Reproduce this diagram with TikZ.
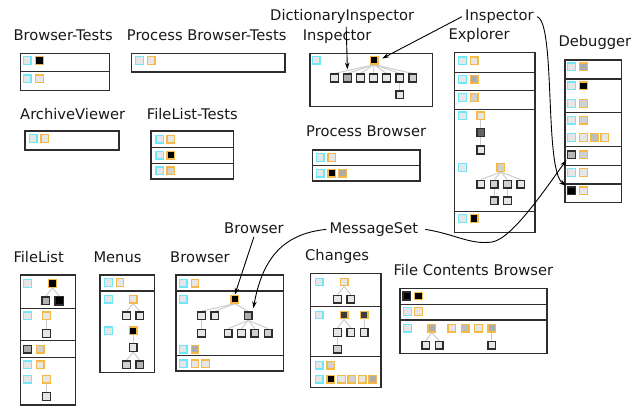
\documentclass[tikz,border=0pt]{standalone}
\usepackage{fontspec}
\setmainfont{DejaVu Sans}
\usetikzlibrary{arrows.meta,backgrounds}

\definecolor{cyanline}{RGB}{110,232,248}
\definecolor{orangeline}{RGB}{245,185,72}
\definecolor{darkline}{RGB}{45,45,45}
\definecolor{sqlight}{RGB}{230,230,230}
\definecolor{sqmid}{RGB}{208,208,208}
\definecolor{sqgray}{RGB}{172,172,172}
\definecolor{sqdark}{RGB}{100,100,100}
\definecolor{sqdeep}{RGB}{60,60,60}
\definecolor{treegray}{RGB}{205,205,205}
\definecolor{panelgray}{RGB}{45,45,45}

\tikzset{
  sqbase/.style={rectangle, minimum size=7.6pt, inner sep=0pt, line width=1.3pt},
  cy/.style={sqbase, draw=cyanline, fill=sqlight},
  or/.style={sqbase, draw=orangeline, fill=#1}, or/.default=sqlight,
  dk/.style={sqbase, draw=darkline, fill=#1, line width=1.5pt}, dk/.default=sqlight,
  panel/.style={draw=panelgray, line width=1.4pt},
  heading/.style={anchor=base west, inner sep=3pt, font=\fontsize{14.7}{17}\selectfont, text=black!90},
  treeedge/.style={draw=treegray, line width=1pt},
  pointer/.style={draw=black, line width=0.9pt, -{Stealth[length=7pt,width=4.5pt]}},
}
% one small square: style, name, x, y
\newcommand\sqbox[4]{\node[#1] (#2) at (#3,#4) {};}

\begin{document}
\begin{tikzpicture}[x=1pt,y=-1pt]
\useasboundingbox (0,0) rectangle (637,407);

% ---------- panel outlines ----------
\draw[panel] (20.7,53.3) rectangle (109.3,90.3);
\draw[panel] (20.7,71.7) -- (109.3,71.7);
\draw[panel] (131.7,53.3) rectangle (285,72);
\draw[panel] (310,53.3) rectangle (432.3,106.7);
\draw[panel] (454.3,52.7) rectangle (535,232.7);
\foreach \y in {72.3,90.7,109.3,211.7} \draw[panel] (454.3,\y) -- (535,\y);
\draw[panel] (565,60) rectangle (621.7,202.7);
\foreach \y in {79,112.7,146.7,165.7,184} \draw[panel] (565,\y) -- (621.7,\y);
\draw[panel] (25,131) rectangle (119,150);
\draw[panel] (151,131) rectangle (233.3,179);
\foreach \y in {147.3,163.3} \draw[panel] (151,\y) -- (233.3,\y);
\draw[panel] (312.3,150) rectangle (420,181);
\draw[panel] (312.3,165.7) -- (420,165.7);
\draw[panel] (20.7,275) rectangle (75.7,405);
\foreach \y in {308.3,340.7,357.3} \draw[panel] (20.7,\y) -- (75.7,\y);
\draw[panel] (100,275) rectangle (154.3,372.7);
\draw[panel] (100,291) -- (154.3,291);
\draw[panel] (176,275) rectangle (283.3,371);
\foreach \y in {291,355.7} \draw[panel] (176,\y) -- (283.3,\y);
\draw[panel] (310.7,273.3) rectangle (381,387.3);
\foreach \y in {306.7,356.7} \draw[panel] (310.7,\y) -- (381,\y);
\draw[panel] (400,288.3) rectangle (547,353.3);
\foreach \y in {304.3,320} \draw[panel] (400,\y) -- (547,\y);

% ---------- headings ----------
\node[heading] (hbt)  at (10.3,40)    {Browser-Tests};
\node[heading] (hpbt) at (123.7,40)   {Process Browser-Tests};
\node[heading] (hin)  at (299.7,40)   {Inspector};
\node[heading] (hex)  at (445.3,39.5) {Explorer};
\node[heading] (hdg)  at (555.3,46.5) {Debugger};
\node[heading] (hav)  at (17,119)     {ArchiveViewer};
\node[heading] (hft)  at (143.7,119)  {FileList-Tests};
\node[heading] (hpb)  at (303,136.5)  {Process Browser};
\node[heading] (hfl)  at (10.3,262.3) {FileList};
\node[heading] (hmn)  at (90.3,262.3) {Menus};
\node[heading] (hbr)  at (167,262.3)  {Browser};
\node[heading] (hch)  at (302,260.5)  {Changes};
\node[heading] (hfc)  at (390.3,275.7){File Contents Browser};
% annotation labels
\node[heading] (adi)  at (267,20.5)   {DictionaryInspector};
\node[heading] (ain)  at (462,20.5)   {Inspector};
\node[heading] (abr)  at (221,233.3)  {Browser};
\node[heading] (ams)  at (326.3,233.3){MessageSet};

% ---------- Browser-Tests ----------
\sqbox{cy}{bt1c}{27.2}{60.5}  \sqbox{or=black}{bt1o}{39.5}{60.5}
\sqbox{cy}{bt2c}{27.2}{78.7}  \sqbox{or}{bt2o}{39.5}{78.7}
% ---------- Process Browser-Tests ----------
\sqbox{cy}{pbt1c}{139.5}{60.5} \sqbox{or}{pbt1o}{151.2}{60.5}
% ---------- ArchiveViewer ----------
\sqbox{cy}{av1c}{33.2}{138.5}  \sqbox{or}{av1o}{44.8}{138.5}
% ---------- FileList-Tests ----------
\sqbox{cy}{ft1c}{159.8}{139.2} \sqbox{or}{ft1o}{170.8}{139.2}
\sqbox{cy}{ft2c}{159.8}{155.2} \sqbox{or=black}{ft2o}{170.8}{155.2}
\sqbox{cy}{ft3c}{159.8}{170.8} \sqbox{or=sqmid}{ft3o}{170.8}{170.8}
% ---------- Process Browser ----------
\sqbox{cy}{pb1c}{320.2}{157.5} \sqbox{or}{pb1o}{331.8}{157.5}
\sqbox{cy}{pb2c}{320.2}{173.2} \sqbox{or=black}{pb2o}{331.8}{173.2}
\sqbox{or=sqgray}{pb2p}{342.5}{173.2}

% ---------- Inspector ----------
\sqbox{cy}{in0c}{316.3}{60.3}
\sqbox{or=black}{inr}{374.2}{60.3}
\sqbox{dk}{inc1}{334.5}{78}
\sqbox{dk=sqgray}{inc2}{347.5}{78}
\sqbox{dk}{inc3}{360.5}{78}
\sqbox{dk}{inc4}{373.5}{78}
\sqbox{dk}{inc5}{386.5}{78}
\sqbox{dk}{inc6}{399.8}{78}
\sqbox{dk=sqmid}{inc7}{412.8}{78}
\sqbox{dk}{ing}{399.8}{94.7}

% ---------- Explorer ----------
\sqbox{cy}{ex1c}{462.5}{60.8}  \sqbox{or}{ex1o}{474.2}{60.8}
\sqbox{cy}{ex2c}{462.5}{79.2}  \sqbox{or=sqgray}{ex2o}{474.2}{79.2}
\sqbox{cy}{ex3c}{462.5}{97.5}  \sqbox{or=sqmid}{ex3o}{474.2}{97.5}
\sqbox{cy}{ex4c}{462.5}{115.8} \sqbox{or}{ex4o}{480.8}{115.8}
\sqbox{dk=sqdark}{ex4a}{480.8}{132.5}
\sqbox{dk}{ex4b}{480.8}{150}
\sqbox{cy}{ex5c}{462.5}{167.5} \sqbox{or=sqmid}{ex5o}{500.8}{167.5}
\sqbox{dk}{ex5k1}{480.8}{184.2}
\sqbox{dk=sqmid}{ex5k2}{494.2}{184.2}
\sqbox{dk=sqmid}{ex5k3}{507.5}{184.2}
\sqbox{dk}{ex5k4}{520.8}{184.2}
\sqbox{dk=sqmid}{ex5g1}{494.2}{200.8}
\sqbox{dk}{ex5g2}{507.5}{200.8}
\sqbox{cy}{ex6c}{462.5}{218.5} \sqbox{or=black}{ex6o}{474.2}{218.5}

% ---------- Debugger ----------
\sqbox{cy}{dg1c}{571.5}{66.8}  \sqbox{or=sqgray}{dg1o}{583.5}{66.8}
\sqbox{cy}{dg2c}{571.5}{85.8}  \sqbox{or=black}{dg2o}{583.5}{85.8}
\sqbox{cy}{dg3c}{571.5}{103.5} \sqbox{or=sqmid}{dg3o}{583.5}{103.5}
\sqbox{cy}{dg4c}{571.5}{120.2} \sqbox{or=sqmid}{dg4o}{583.5}{120.2}
\sqbox{cy}{dg5c}{571.5}{137.5} \sqbox{or}{dg5o}{583.5}{137.5}
\sqbox{or=sqgray!80}{dg5p}{594.2}{137.5} \sqbox{or}{dg5q}{604.8}{137.5}
\sqbox{dk=sqgray!85}{dg6d}{571.5}{154.8} \sqbox{or=sqmid}{dg6o}{583.5}{154.8}
\sqbox{cy}{dg7c}{571.5}{172.5} \sqbox{or}{dg7o}{583.5}{172.5}
\sqbox{dk=black}{dg8d}{571.5}{190.8} \sqbox{or}{dg8o}{583.5}{190.8}

% ---------- FileList ----------
\sqbox{cy}{fl1c}{27.5}{283.5}  \sqbox{or=black}{fl1o}{52.5}{283.5}
\sqbox{dk=sqgray!90}{fl1a}{45.8}{300.8}
\sqbox{dk=black,minimum size=8.6pt}{fl1b}{59.3}{300.8}
\sqbox{cy}{fl2c}{27.5}{315.8}  \sqbox{or}{fl2o}{46.5}{315.8}
\sqbox{dk}{fl2a}{46.5}{333.5}
\sqbox{dk=sqgray}{fl3d}{27.5}{349.2} \sqbox{or=sqmid}{fl3o}{40.2}{349.2}
\sqbox{cy}{fl4c}{27.5}{364.8}  \sqbox{or}{fl4o}{40.2}{364.8}
\sqbox{cy}{fl5c}{27.5}{379.2}  \sqbox{or}{fl5o}{46.5}{379.2}
\sqbox{dk}{fl5a}{46.5}{396.5}

% ---------- Menus ----------
\sqbox{cy}{mn1c}{108.5}{282.5} \sqbox{or}{mn1o}{120}{282.5}
\sqbox{cy}{mn2c}{108.5}{299.2} \sqbox{or}{mn2o}{133.2}{299.2}
\sqbox{dk}{mn2a}{126.5}{315.8} \sqbox{dk}{mn2b}{139.8}{315.8}
\sqbox{cy}{mn3c}{108.5}{330.8} \sqbox{or=black}{mn3o}{133.2}{330.8}
\sqbox{dk}{mn3a}{133.2}{347.5}
\sqbox{dk=sqmid}{mn3g1}{126.5}{364.8} \sqbox{dk=sqgray!90}{mn3g2}{139.8}{364.8}

% ---------- Browser ----------
\sqbox{cy}{br1c}{183.2}{283.2} \sqbox{or}{br1o}{195}{283.2}
\sqbox{cy}{br2c}{183.2}{299.2} \sqbox{or=black}{br2o}{234.8}{299.2}
\sqbox{dk}{br2a}{201.5}{315.8}
\sqbox{dk}{br2b}{214.8}{315.8}
\sqbox{dk=sqgray}{br2m}{248.2}{315.8}
\sqbox{dk}{br2a1}{201.5}{333.2}
\sqbox{dk}{br2m1}{228.2}{333.2}
\sqbox{dk}{br2m2}{241.5}{333.2}
\sqbox{dk=sqmid}{br2m3}{254.8}{333.2}
\sqbox{dk=sqmid}{br2m4}{268.2}{333.2}
\sqbox{cy}{br3c}{183.2}{349.2} \sqbox{or=sqgray}{br3o}{195}{349.2}
\sqbox{cy}{br4c}{183.2}{363.8} \sqbox{or}{br4o}{195}{363.8}
\sqbox{or}{br4p}{205.5}{363.8}

% ---------- Changes ----------
\sqbox{cy}{ch1c}{319.2}{282}   \sqbox{or}{ch1o}{344.2}{282}
\sqbox{dk}{ch1a}{337.5}{299.2} \sqbox{dk}{ch1b}{350.8}{299.2}
\sqbox{cy}{ch2c}{319.2}{315}   \sqbox{or=sqdeep}{ch2o}{344.2}{315}
\sqbox{or=sqdeep}{ch2p}{364.2}{315}
\sqbox{dk}{ch2a}{337.5}{332.5} \sqbox{dk}{ch2b}{350.8}{332.5}
\sqbox{dk}{ch2pa}{364.2}{332.5}
\sqbox{dk=sqmid}{ch2aa}{337.5}{349.2}
\sqbox{cy}{ch3c}{319.2}{365.2} \sqbox{or=sqmid}{ch3o}{330.8}{365.2}
\sqbox{cy}{ch4c}{319.2}{379.2}
\sqbox{or=black}{ch4o1}{330.8}{379.2}
\sqbox{or}{ch4o2}{341.5}{379.2}
\sqbox{or=sqmid}{ch4o3}{351.8}{379.2}
\sqbox{or}{ch4o4}{362.3}{379.2}
\sqbox{or=sqgray}{ch4o5}{372.8}{379.2}

% ---------- File Contents Browser ----------
\sqbox{dk=black}{fc1d}{406.8}{296} \sqbox{or=black}{fc1o}{418.5}{296}
\sqbox{cy}{fc2c}{407.5}{311.5}     \sqbox{or}{fc2o}{418.5}{311.5}
\sqbox{cy}{fc3c}{407.5}{328.2}
\sqbox{or=sqgray}{fc3o1}{431.8}{328.2}
\sqbox{or}{fc3o2}{451.8}{328.2}
\sqbox{or=sqgray!80}{fc3o3}{465.2}{328.2}
\sqbox{or}{fc3o4}{478.5}{328.2}
\sqbox{or=sqgray}{fc3o5}{491.8}{328.2}
\sqbox{dk}{fc3a}{425.8}{345.2} \sqbox{dk}{fc3b}{439.2}{345.2}
\sqbox{dk}{fc3e}{491.8}{345.2}

% ---------- tree edges, behind the squares ----------
\begin{scope}[on background layer]
  \foreach \c in {inc1,inc2,inc3,inc4,inc5,inc6,inc7} \draw[treeedge] (inr.south) -- (\c.north);
  \draw[treeedge] (inc6) -- (ing);
  \draw[treeedge] (ex4o) -- (ex4a);
  \draw[treeedge] (ex4a) -- (ex4b);
  \foreach \c in {ex5k1,ex5k2,ex5k3,ex5k4} \draw[treeedge] (ex5o.south) -- (\c.north);
  \draw[treeedge] (ex5k2) -- (ex5g1);
  \draw[treeedge] (ex5k3) -- (ex5g2);
  \foreach \c in {fl1a,fl1b} \draw[treeedge] (fl1o.south) -- (\c.north);
  \draw[treeedge] (fl2o) -- (fl2a);
  \draw[treeedge] (fl5o) -- (fl5a);
  \foreach \c in {mn2a,mn2b} \draw[treeedge] (mn2o.south) -- (\c.north);
  \draw[treeedge] (mn3o) -- (mn3a);
  \foreach \c in {mn3g1,mn3g2} \draw[treeedge] (mn3a.south) -- (\c.north);
  \foreach \c in {br2a,br2b,br2m} \draw[treeedge] (br2o.south) -- (\c.north);
  \draw[treeedge] (br2a) -- (br2a1);
  \foreach \c in {br2m1,br2m2,br2m3,br2m4} \draw[treeedge] (br2m.south) -- (\c.north);
  \foreach \c in {ch1a,ch1b} \draw[treeedge] (ch1o.south) -- (\c.north);
  \foreach \c in {ch2a,ch2b} \draw[treeedge] (ch2o.south) -- (\c.north);
  \draw[treeedge] (ch2p) -- (ch2pa);
  \draw[treeedge] (ch2a) -- (ch2aa);
  \foreach \c in {fc3a,fc3b} \draw[treeedge] (fc3o1.south) -- (\c.north);
  \draw[treeedge] (fc3o5) -- (fc3e);
\end{scope}

% ---------- annotation pointers ----------
\draw[pointer, shorten >=4pt] ([xshift=4pt]adi.south) -- (inc2.north);
\draw[pointer, shorten >=4pt] (ain.west) -- (inr.east);
\draw[pointer, shorten >=1pt] (ain.east) .. controls (556,22) and (544,170) .. (dg8d.north west);
\draw[pointer] (abr.south) -- (br2o.north);
\draw[pointer, shorten >=3pt] (ams.west) .. controls (280,234) and (262,262) .. (br2m.north east);
\draw[pointer, shorten >=1pt] ([xshift=4pt]ams.east) .. controls (455,234) and (470,245) .. (492,242)
   .. controls (512,239) and (546,188) .. (dg6d.south west);
\end{tikzpicture}
\end{document}
